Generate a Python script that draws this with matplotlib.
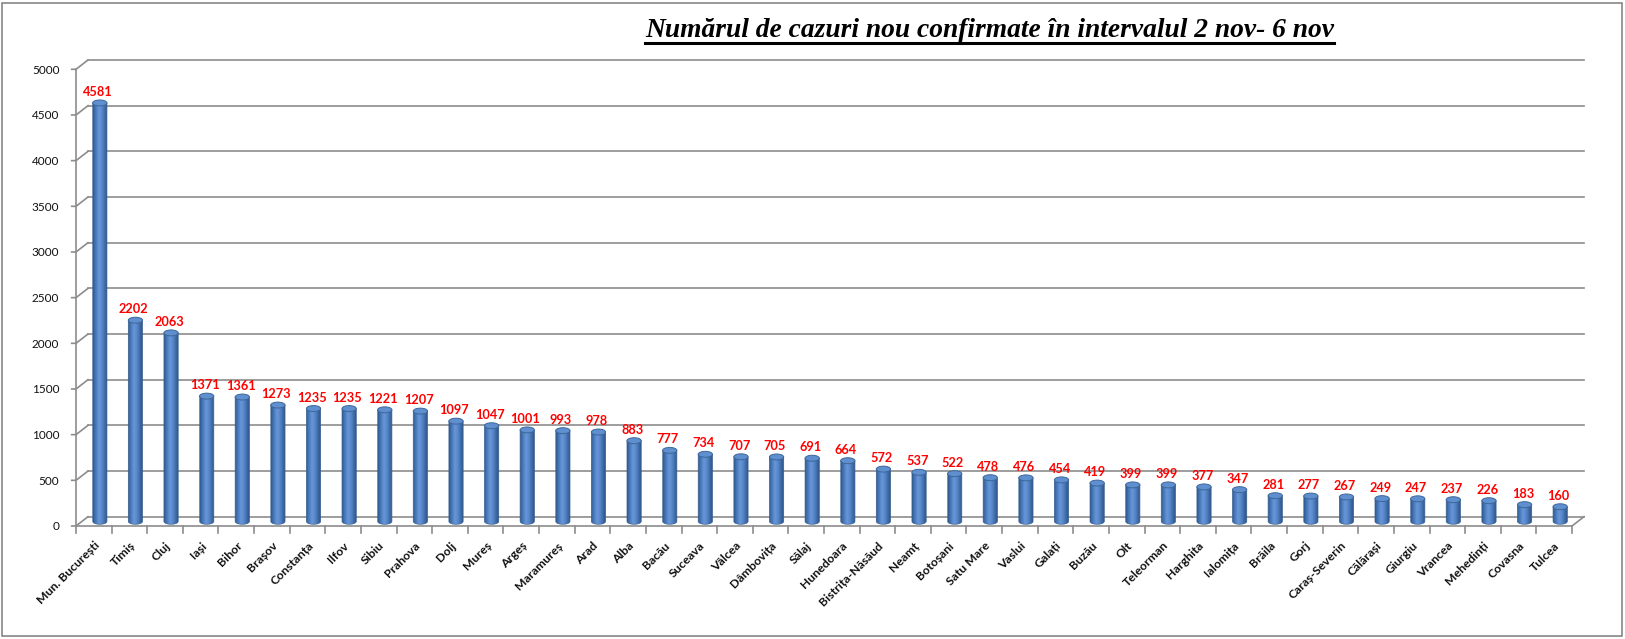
import matplotlib.pyplot as plt
import numpy as np
from matplotlib.patches import Ellipse, Rectangle, PathPatch
from matplotlib.path import Path
from matplotlib.lines import Line2D
from matplotlib.colors import LinearSegmentedColormap

plt.rcParams['font.family'] = ['Lato', 'DejaVu Sans']

judete = ['Mun. București', 'Timiș', 'Cluj', 'Iași', 'Bihor', 'Brașov', 'Constanța',
          'Ilfov', 'Sibiu', 'Prahova', 'Dolj', 'Mureș', 'Argeș', 'Maramureș', 'Arad',
          'Alba', 'Bacău', 'Suceava', 'Vâlcea', 'Dâmbovița', 'Sălaj', 'Hunedoara',
          'Bistrița-Năsăud', 'Neamț', 'Botoșani', 'Satu Mare', 'Vaslui', 'Galați',
          'Buzău', 'Olt', 'Teleorman', 'Harghita', 'Ialomița', 'Brăila', 'Gorj',
          'Caraș-Severin', 'Călărași', 'Giurgiu', 'Vrancea', 'Mehedinți', 'Covasna',
          'Tulcea']
cazuri = [4581, 2202, 2063, 1371, 1361, 1273, 1235, 1235, 1221, 1207, 1097, 1047,
          1001, 993, 978, 883, 777, 734, 707, 705, 691, 664, 572, 537, 522, 478, 476,
          454, 419, 399, 399, 377, 347, 281, 277, 267, 249, 247, 237, 226, 183, 160]
y_ticks = list(range(0, 5001, 500))

W, H = 1625, 639
fig = plt.figure(figsize=(W / 100, H / 100), dpi=100)
fig.patch.set_facecolor('white')

# chenar exterior
fig.add_artist(Rectangle((2 / W, 3 / H), 1620 / W, 633 / H, transform=fig.transFigure,
                         fill=False, edgecolor='#868686', linewidth=1.2))

# axa din fata (planul frontal)
x0, x1 = 76, 1572
yb, yt = 526, 69.3
ax = fig.add_axes([x0 / W, (H - yb) / H, (x1 - x0) / W, (yb - yt) / H])
n = len(judete)
ax.set_xlim(-0.5, n - 0.5)
ax.set_ylim(0, 5000)
for s in ['top', 'right', 'bottom', 'left']:
    ax.spines[s].set_visible(False)

# adancimea 3D in unitati de date
px_x = (x1 - x0) / n
px_y = (yb - yt) / 5000
ddx = 12 / px_x
ddy = 9.3 / px_y
grid_c = '#8c8c8c'

# peretele din spate + liniile diagonale
for v in y_ticks:
    ax.add_line(Line2D([-0.5 + ddx, n - 0.5 + ddx], [v + ddy, v + ddy], color=grid_c,
                       lw=1.2, clip_on=False, zorder=1))
    ax.add_line(Line2D([-0.5 - 0.12, -0.5, -0.5 + ddx], [v, v, v + ddy], color=grid_c,
                       lw=1.2, clip_on=False, zorder=1))
# axa verticala
ax.add_line(Line2D([-0.5, -0.5], [0, 5000], color=grid_c, lw=1.2, clip_on=False, zorder=1))
# podeaua
ax.add_line(Line2D([-0.5, n - 0.5, n - 0.5 + ddx], [0, 0, ddy], color=grid_c, lw=1.2,
                   clip_on=False, zorder=1))
for i in range(n + 1):
    ax.add_line(Line2D([i - 0.5, i - 0.5], [0, -80], color=grid_c, lw=1.2,
                       clip_on=False, zorder=1))

# cilindri
cmap = LinearSegmentedColormap.from_list('cyl', ['#2f5a8e', '#4a7bbd', '#6797d8',
                                                  '#5888cb', '#3f6ba6', '#2a5283'])
grad = np.linspace(0, 1, 64).reshape(1, -1)
bw = 0.40
eh = 65
for i, (name, val) in enumerate(zip(judete, cazuri)):
    cx = i + ddx / 2
    base = ddy / 2
    top = val + base
    l, r = cx - bw / 2, cx + bw / 2
    # corp: dreptunghi + jumatatea de jos a elipsei
    t = np.linspace(np.pi, 2 * np.pi, 30)
    bottom_pts = np.column_stack([cx + bw / 2 * np.cos(t), base + eh / 2 * np.sin(t)])
    verts = np.vstack([[l, top], bottom_pts, [r, top], [l, top]])
    path = Path(verts, closed=True)
    patch = PathPatch(path, facecolor='none', edgecolor='#3a6090', lw=0.5, zorder=3,
                      clip_on=False)
    ax.add_patch(patch)
    im = ax.imshow(grad, cmap=cmap, aspect='auto', extent=[l, r, base - eh / 2, top],
                   zorder=2, interpolation='bilinear')
    im.set_clip_path(patch)
    ax.add_patch(Ellipse((cx, top), bw, eh, facecolor='#5f8fcf', edgecolor='#3d6799',
                         lw=0.7, zorder=4, clip_on=False))
    ax.text(cx - 0.05, top + 55, str(val), ha='center', va='bottom', color='#ff0000',
            fontsize=9.2, fontweight='bold', zorder=5)

ax.set_xlim(-0.5, n - 0.5)
ax.set_ylim(0, 5000)
ax.set_yticks(y_ticks)
ax.set_yticklabels([str(v) for v in y_ticks], fontsize=8.5, color='#111111')
ax.tick_params(axis='y', length=0, pad=12)
ax.set_xticks(range(n))
ax.set_xticklabels(judete, rotation=45, ha='right', va='top', rotation_mode='anchor',
                   fontsize=8.8, fontweight='bold', color='#111111')
ax.tick_params(axis='x', length=0, pad=10)

# titlu subliniat
title = fig.text(645 / W, 1 - 37 / H, 'Numărul de cazuri nou confirmate în intervalul 2 nov- 6 nov',
                 family=['Liberation Serif', 'DejaVu Serif'], fontsize=19.8,
                 fontweight='bold', fontstyle='italic', ha='left', va='baseline')
fig.canvas.draw()
bb = title.get_window_extent(fig.canvas.get_renderer())
fig.add_artist(Line2D([bb.x0 / W, bb.x1 / W], [(H - 43) / H, (H - 43) / H],
                      transform=fig.transFigure, color='black', lw=2.2))

plt.savefig('out.png', dpi=100, facecolor='white')
plt.close()
